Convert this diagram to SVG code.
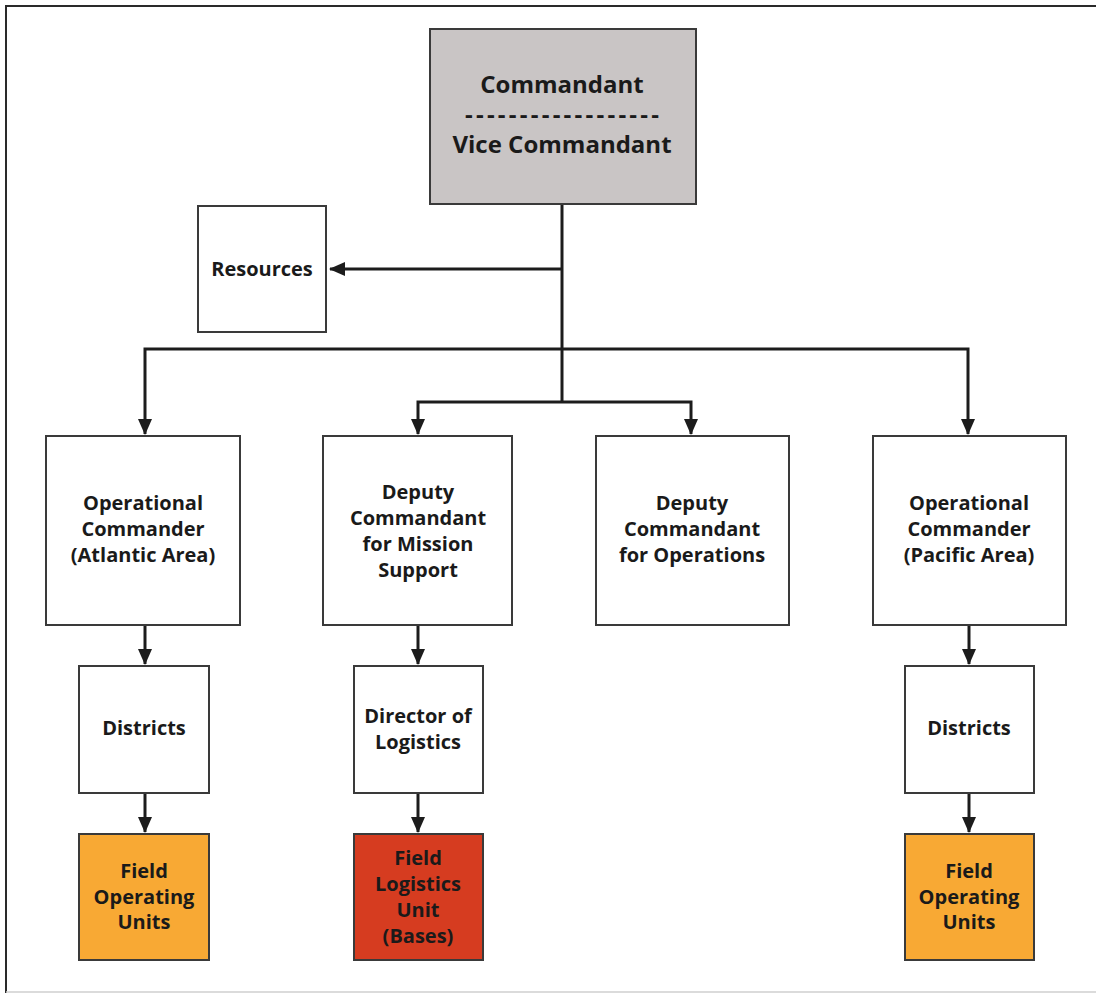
<svg xmlns="http://www.w3.org/2000/svg" width="1096" height="994" viewBox="0 0 1096 994">
  <defs>
    <marker id="arrow" markerUnits="userSpaceOnUse" markerWidth="16" markerHeight="16" viewBox="0 0 16 16" refX="15" refY="8" orient="auto">
      <path d="M0,1 L16,8 L0,15 Z" fill="#1c1c1c"/>
    </marker>
  </defs>
  <style>
    .box { fill: #ffffff; stroke: #3a3a3a; stroke-width: 2; }
    .top { fill: #c9c5c5; }
    .orange { fill: #f8a934; }
    .red { fill: #d63c20; }
    .lbl { font-family: "Open Sans", "DejaVu Sans", sans-serif; font-weight: 700; font-size: 20px; fill: #1a1a1a; text-anchor: middle; }
    .big { font-size: 24px; }
    .wire { fill: none; stroke: #1c1c1c; stroke-width: 3; }
    .frame { fill: none; stroke: #2a2a2a; stroke-width: 2; }
  </style>

  <rect width="1096" height="994" fill="#ffffff"/>
  <!-- outer frame -->
  <path class="frame" d="M1100,6 L6,6 L6,993"/>
  <path d="M6,992 L1100,992" stroke="#cfcfcf" stroke-width="1.5" fill="none"/>

  <g id="connectors">
    <path class="wire" d="M562,204 V402"/>
    <path class="wire" d="M562,269 H330" marker-end="url(#arrow)"/>
    <path class="wire" d="M562,349 H145 V434" marker-end="url(#arrow)"/>
    <path class="wire" d="M562,349 H968 V434" marker-end="url(#arrow)"/>
    <path class="wire" d="M562,402 H418 V434" marker-end="url(#arrow)"/>
    <path class="wire" d="M562,402 H691 V434" marker-end="url(#arrow)"/>
    <path class="wire" d="M145,625 V664" marker-end="url(#arrow)"/>
    <path class="wire" d="M418,625 V664" marker-end="url(#arrow)"/>
    <path class="wire" d="M969,625 V664" marker-end="url(#arrow)"/>
    <path class="wire" d="M145,793 V832" marker-end="url(#arrow)"/>
    <path class="wire" d="M418,793 V832" marker-end="url(#arrow)"/>
    <path class="wire" d="M969,793 V832" marker-end="url(#arrow)"/>
  </g>

  <g id="commandant">
    <rect class="box top" x="430" y="29" width="266" height="175"/>
    <text class="lbl big" x="562" y="93">Commandant</text>
    <text class="lbl big" x="562" y="123" textLength="194" lengthAdjust="spacing">------------------</text>
    <text class="lbl big" x="562" y="153">Vice Commandant</text>
  </g>

  <g id="resources">
    <rect class="box" x="198" y="206" width="128" height="126"/>
    <text class="lbl" x="262" y="276">Resources</text>
  </g>

  <g id="op-atlantic">
    <rect class="box" x="46" y="436" width="194" height="189"/>
    <text class="lbl" x="143" y="510">Operational</text>
    <text class="lbl" x="143" y="536">Commander</text>
    <text class="lbl" x="143" y="562">(Atlantic Area)</text>
  </g>

  <g id="deputy-mission">
    <rect class="box" x="323" y="436" width="189" height="189"/>
    <text class="lbl" x="418" y="499">Deputy</text>
    <text class="lbl" x="418" y="525">Commandant</text>
    <text class="lbl" x="418" y="551">for Mission</text>
    <text class="lbl" x="418" y="577">Support</text>
  </g>

  <g id="deputy-ops">
    <rect class="box" x="596" y="436" width="193" height="189"/>
    <text class="lbl" x="692" y="510">Deputy</text>
    <text class="lbl" x="692" y="536">Commandant</text>
    <text class="lbl" x="692" y="562">for Operations</text>
  </g>

  <g id="op-pacific">
    <rect class="box" x="873" y="436" width="193" height="189"/>
    <text class="lbl" x="969" y="510">Operational</text>
    <text class="lbl" x="969" y="536">Commander</text>
    <text class="lbl" x="969" y="562">(Pacific Area)</text>
  </g>

  <g id="districts-atlantic">
    <rect class="box" x="79" y="666" width="130" height="127"/>
    <text class="lbl" x="144" y="735">Districts</text>
  </g>

  <g id="director-logistics">
    <rect class="box" x="354" y="666" width="129" height="127"/>
    <text class="lbl" x="418" y="723">Director of</text>
    <text class="lbl" x="418" y="749">Logistics</text>
  </g>

  <g id="districts-pacific">
    <rect class="box" x="905" y="666" width="129" height="127"/>
    <text class="lbl" x="969" y="735">Districts</text>
  </g>

  <g id="field-ops-atlantic">
    <rect class="box orange" x="79" y="834" width="130" height="126"/>
    <text class="lbl" x="144" y="878">Field</text>
    <text class="lbl" x="144" y="904">Operating</text>
    <text class="lbl" x="144" y="929">Units</text>
  </g>

  <g id="field-logistics">
    <rect class="box red" x="354" y="834" width="129" height="126"/>
    <text class="lbl" x="418" y="865">Field</text>
    <text class="lbl" x="418" y="891">Logistics</text>
    <text class="lbl" x="418" y="917">Unit</text>
    <text class="lbl" x="418" y="943">(Bases)</text>
  </g>

  <g id="field-ops-pacific">
    <rect class="box orange" x="905" y="834" width="129" height="126"/>
    <text class="lbl" x="969" y="878">Field</text>
    <text class="lbl" x="969" y="904">Operating</text>
    <text class="lbl" x="969" y="929">Units</text>
  </g>
</svg>
